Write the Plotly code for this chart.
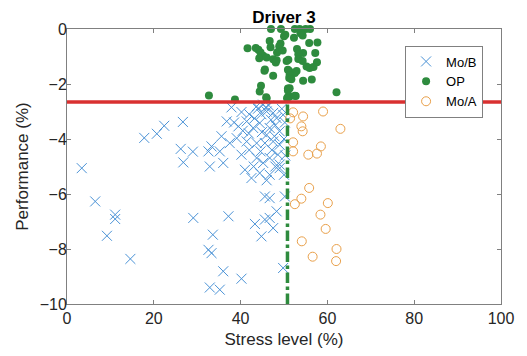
import plotly.graph_objects as go

# ---- data ----
mob_x = [3.4, 6.5, 11.1, 11.1, 9.2, 14.6, 17.8, 20.7, 22.4, 26.7, 26.2, 29.0, 26.8,
         32.6, 33.3, 35.2, 32.9, 36.0,
         36.8, 35.6, 37.5, 37.9, 40.2, 43.7, 45.2, 46.0, 47.5, 48.3, 49.8,
         39.5, 41.4, 42.9, 44.4, 46.7, 49.0, 39.1, 41.4, 43.7, 45.6, 47.5, 49.0,
         40.2, 43.7, 45.2, 46.7, 48.6, 49.0, 41.0, 42.5, 44.4, 46.7, 49.0,
         45.6, 46.7, 50.2, 29.1, 37.2, 43.3, 45.6, 46.7, 48.3, 47.5, 33.6, 44.8,
         32.6, 33.3, 36.0, 40.2, 32.9, 35.2, 49.8,
         44.0, 45.8, 46.5, 44.8, 47.0, 42.0, 43.2, 48.0, 50.2, 50.0, 50.3, 50.0,
         49.5, 47.8, 46.0, 44.9, 41.9, 40.5, 38.5, 42.0, 44.6, 47.2, 48.0, 43.0, 46.0]
mob_y = [-5.06, -6.27, -6.75, -6.91, -7.52, -8.36, -3.96, -3.81, -3.52, -3.38, -4.36, -4.46, -4.85,
         -4.45, -4.27, -4.45, -5.0, -4.87,
         -3.36, -3.9, -4.15, -2.85, -3.02, -2.81, -2.75, -3.0, -3.05, -3.24, -3.12,
         -3.54, -3.36, -3.6, -3.42, -3.6, -3.72, -3.97, -4.09, -4.15, -4.15, -4.09, -4.21,
         -4.57, -4.69, -4.87, -4.69, -4.57, -4.93, -5.12, -5.42, -5.24, -5.3, -5.06,
         -6.09, -6.15, -6.09, -6.87, -6.81, -7.09, -6.93, -6.87, -6.63, -7.24, -7.48, -7.54,
         -8.03, -8.15, -8.81, -9.08, -9.4, -9.48, -8.69,
         -2.9, -2.85, -2.78, -3.1, -3.3, -3.1, -3.25, -3.5, -3.4, -4.0, -4.6, -5.3,
         -2.9, -3.9, -3.85, -3.75, -3.8, -3.7, -3.4, -4.4, -4.45, -4.4, -5.0, -5.0, -5.5]

op_x = [47.0, 49.3, 52.5, 53.6, 55.0, 56.0,
        50.0, 52.3, 53.8, 54.3, 50.3,
        46.7, 49.2, 55.8, 57.7,
        41.6, 43.5, 44.1, 44.6, 45.2, 44.3,
        46.9, 48.9, 49.0, 48.4, 49.7, 53.0, 54.4, 57.2, 53.3,
        46.0, 47.5, 48.3, 48.1, 50.6, 51.0, 53.3, 54.3, 57.6,
        55.2, 55.9, 56.8, 50.9, 45.5, 45.6, 51.2, 52.9, 52.5, 51.3,
        47.5, 51.2, 51.7, 54.4, 56.4, 44.7, 51.3, 50.9, 44.4, 52.7, 51.3, 50.9, 46.0, 50.7,
        38.7, 32.7, 62.1, 45.9, 52.5, 50.9]
op_y = [0.0, 0.0, 0.0, 0.0, 0.0, 0.0,
        -0.26, -0.32, -0.15, -0.24, -0.21,
        -0.44, -0.53, -0.51, -0.49,
        -0.70, -0.69, -0.75, -0.85, -0.97, -1.06,
        -0.66, -0.63, -0.75, -0.85, -0.78, -0.73, -0.87, -0.87, -0.92,
        -1.04, -1.10, -1.14, -1.22, -1.16, -1.12, -1.09, -1.16, -1.21,
        -1.36, -1.42, -1.38, -1.48, -1.52, -1.47, -1.53, -1.53, -1.6, -1.67,
        -1.70, -1.78, -1.83, -1.88, -1.84, -2.06, -2.15, -2.16, -2.27, -2.44, -2.45, -2.47, -2.52, -2.52,
        -2.56, -2.42, -2.3, -2.48, -2.43, -2.24]

moa_x = [52.1, 51.4, 54.4, 59.0, 54.0, 54.3, 63.0, 52.1, 52.1, 58.5, 57.6, 55.6,
         55.8, 54.0, 52.5, 60.1, 58.4, 59.6, 54.1, 62.1, 56.6, 62.0]
moa_y = [-3.03, -3.25, -3.18, -3.0, -3.54, -3.72, -3.63, -4.12, -4.45, -4.27, -4.53, -4.57,
         -5.78, -6.17, -6.37, -6.33, -6.75, -7.27, -7.72, -8.0, -8.28, -8.44]

perf_threshold = -2.65
stress_threshold = 50.8

x_ticks = [0, 20, 40, 60, 80, 100]
y_ticks = [-10, -8, -6, -4, -2, 0]

FONT = "Liberation Sans, Arial, sans-serif"
BLUE = "#4a92d6"
GREEN = "#2e8b3e"
ORANGE = "#e9a04a"
RED = "#d93030"

fig = go.Figure()
fig.add_trace(go.Scatter(x=mob_x, y=mob_y, mode="markers", name="Mo/B",
                         marker=dict(symbol="x-thin-open", size=10,
                                     line=dict(color=BLUE, width=1), color=BLUE),
                         cliponaxis=False))
fig.add_trace(go.Scatter(x=op_x, y=op_y, mode="markers", name="OP",
                         marker=dict(symbol="circle", size=8, color=GREEN,
                                     line=dict(width=0)),
                         cliponaxis=False))
fig.add_trace(go.Scatter(x=moa_x, y=moa_y, mode="markers", name="Mo/A",
                         marker=dict(symbol="circle-open", size=9,
                                     line=dict(color=ORANGE, width=1), color=ORANGE),
                         cliponaxis=False))
fig.add_trace(go.Scatter(x=[x_ticks[0], x_ticks[-1]], y=[perf_threshold, perf_threshold],
                         mode="lines", line=dict(color=RED, width=3.5),
                         showlegend=False, hoverinfo="skip"))
fig.add_trace(go.Scatter(x=[stress_threshold, stress_threshold], y=[y_ticks[0], perf_threshold],
                         mode="lines", line=dict(color=GREEN, width=3.5, dash="dashdot"),
                         showlegend=False, hoverinfo="skip"))

axis_common = dict(showline=True, linecolor="#808080", linewidth=1, mirror="ticks",
                   ticks="inside", ticklen=4, tickcolor="#808080", tickwidth=1,
                   showgrid=False, zeroline=False, automargin=False,
                   tickfont=dict(family=FONT, size=16, color="#262626"))

# the page body adds an 8px offset; the figure is sized to fill the rest of the window
fig.update_layout(
    width=519, height=348,
    margin=dict(l=59, r=26, t=21, b=52),
    paper_bgcolor="white", plot_bgcolor="white",
    font=dict(family=FONT, color="#262626"),
    title=dict(text="<b>Driver 3</b>", x=0.5, xref="paper", xanchor="center",
               y=1 - 3 / 348, yref="container", yanchor="top", pad=dict(t=0, b=0),
               font=dict(family=FONT, size=17, color="#000000")),
    xaxis=dict(range=[0, 100], tickvals=x_ticks,
               title=dict(text="Stress level (%)", font=dict(family=FONT, size=17), standoff=6),
               **axis_common),
    yaxis=dict(range=[-10, 0], tickvals=y_ticks, ticklabelstandoff=-4,
               title=dict(text="Performance (%)", font=dict(family=FONT, size=17), standoff=6),
               **axis_common),
    legend=dict(x=0.779, y=0.94, xanchor="left", yanchor="top",
                bgcolor="white", bordercolor="#808080", borderwidth=1,
                font=dict(family=FONT, size=13, color="#000000")),
)

fig.write_html("out.html")
